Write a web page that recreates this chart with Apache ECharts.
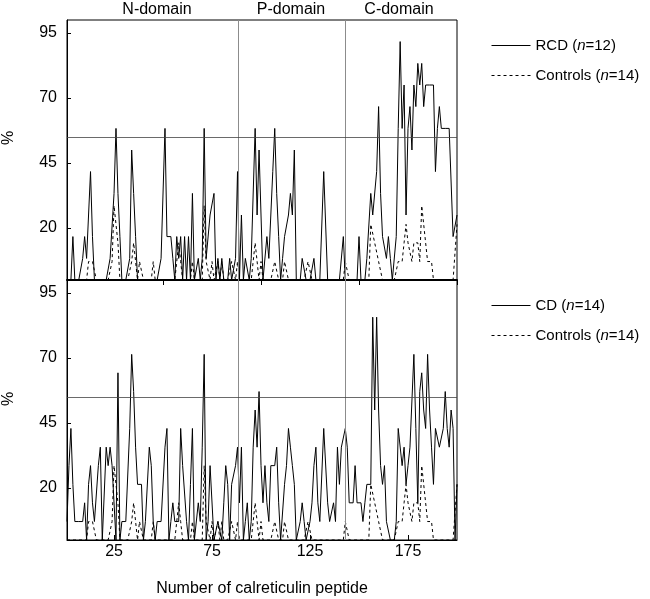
<!DOCTYPE html>
<html>
<head>
<meta charset="utf-8">
<script src="https://cdn.jsdelivr.net/npm/echarts@6/dist/echarts.min.js"></script>
<style>
  html, body { margin: 0; padding: 0; background: #fff; }
  #chart { width: 650px; height: 599px; }
</style>
</head>
<body>
<div id="chart"></div>
<script>
  // % of responders per peptide (peptides 1..200)
  const rcd = [
    0, 0, 0, 16.7, 0, 0, 0, 0, 8.3, 16.7, 8.3, 25, 41.7, 16.7, 0, 0, 0, 0, 0, 0,
    0, 0, 8.3, 8.3, 33.3, 58.3, 33.3, 16.7, 0, 0, 0, 0, 8.3, 50, 33.3, 16.7, 0, 0, 0, 0,
    0, 0, 0, 0, 0, 0, 0, 0, 8.3, 8.3, 58.3, 16.7, 16.7, 16.7, 8.3, 0, 16.7, 8.3, 16.7, 0,
    16.7, 0, 16.7, 0, 33.3, 0, 0, 8.3, 0, 8.3, 58.3, 8.3, 8.3, 25, 25, 33.3, 0, 8.3, 0, 8.3,
    0, 0, 0, 8.3, 0, 0, 8.3, 41.7, 0, 25, 0, 8.3, 8.3, 0, 8.3, 8.3, 58.3, 25, 50, 50,
    0, 0, 16.7, 8.3, 25, 41.7, 58.3, 33.3, 16.7, 0, 8.3, 16.7, 16.7, 25, 33.3, 25, 50, 0, 0, 0,
    8.3, 8.3, 0, 0, 0, 0, 8.3, 0, 0, 0, 0, 41.7, 41.7, 0, 0, 0, 0, 0, 0, 0,
    0, 16.7, 0, 0, 0, 0, 0, 0, 0, 16.7, 0, 0, 0, 8.3, 8.3, 33.3, 25, 25, 41.7, 66.7,
    33.3, 16.7, 16.7, 8.3, 16.7, 8.3, 0, 0, 16.7, 58.3, 91.7, 58.3, 75, 25, 58.3, 66.7, 50, 75, 66.7, 83.3,
    75, 83.3, 66.7, 75, 75, 75, 75, 75, 41.7, 58.3, 66.7, 58.3, 58.3, 58.3, 58.3, 58.3, 58.3, 16.7, 16.7, 25
  ]
  const cd = [
    7.1, 28.6, 42.9, 21.4, 7.1, 7.1, 7.1, 7.1, 7.1, 14.3, 0, 21.4, 28.6, 14.3, 7.1, 7.1, 28.6, 35.7, 0, 0,
    35.7, 28.6, 35.7, 28.6, 28.6, 0, 64.3, 0, 7.1, 7.1, 7.1, 7.1, 42.9, 71.4, 57.1, 35.7, 21.4, 21.4, 21.4, 0,
    7.1, 7.1, 35.7, 28.6, 7.1, 0, 7.1, 7.1, 7.1, 7.1, 35.7, 42.9, 0, 7.1, 14.3, 7.1, 7.1, 7.1, 42.9, 28.6,
    28.6, 7.1, 0, 21.4, 42.9, 0, 0, 14.3, 7.1, 35.7, 71.4, 0, 7.1, 28.6, 28.6, 0, 0, 7.1, 7.1, 0,
    14.3, 28.6, 21.4, 0, 21.4, 21.4, 28.6, 35.7, 14.3, 35.7, 0, 7.1, 14.3, 0, 7.1, 35.7, 50, 35.7, 57.1, 28.6,
    14.3, 28.6, 14.3, 7.1, 28.6, 28.6, 28.6, 35.7, 14.3, 0, 0, 21.4, 28.6, 42.9, 35.7, 28.6, 21.4, 0, 0, 7.1,
    14.3, 7.1, 0, 0, 7.1, 14.3, 28.6, 35.7, 14.3, 7.1, 7.1, 42.9, 42.9, 14.3, 7.1, 7.1, 14.3, 7.1, 35.7, 21.4,
    35.7, 35.7, 42.9, 35.7, 14.3, 14.3, 14.3, 28.6, 14.3, 14.3, 14.3, 7.1, 14.3, 21.4, 21.4, 21.4, 85.7, 50, 85.7, 50,
    28.6, 21.4, 28.6, 7.1, 7.1, 0, 0, 0, 7.1, 42.9, 42.9, 28.6, 35.7, 21.4, 28.6, 35.7, 35.7, 71.4, 42.9, 14.3,
    57.1, 64.3, 50, 42.9, 71.4, 50, 35.7, 21.4, 42.9, 42.9, 35.7, 35.7, 42.9, 57.1, 42.9, 35.7, 50, 42.9, 0, 21.4
  ]
  // same control group shown in both panels
  const controls = [
    0, 0, 0, 0, 0, 0, 0, 0, 0, 0, 0, 7.1, 7.1, 7.1, 7.1, 0, 0, 0, 0, 0,
    0, 0, 0, 7.1, 28.6, 21.4, 14.3, 0, 0, 0, 0, 0, 0, 7.1, 14.3, 7.1, 0, 7.1, 7.1, 0,
    0, 0, 0, 0, 7.1, 0, 0, 0, 0, 0, 0, 0, 0, 0, 0, 0, 7.1, 14.3, 7.1, 0,
    0, 0, 0, 0, 7.1, 0, 0, 0, 0, 0, 28.6, 7.1, 7.1, 0, 7.1, 0, 0, 7.1, 0, 7.1,
    0, 0, 0, 0, 7.1, 7.1, 0, 7.1, 0, 0, 0, 0, 0, 0, 0, 0, 14.3, 14.3, 0, 7.1,
    0, 0, 0, 0, 0, 0, 7.1, 7.1, 0, 0, 0, 7.1, 7.1, 0, 0, 0, 0, 0, 0, 0,
    0, 0, 0, 7.1, 7.1, 0, 0, 0, 0, 0, 0, 0, 0, 0, 0, 0, 0, 0, 0, 0,
    0, 0, 7.1, 7.1, 0, 0, 0, 0, 0, 0, 0, 0, 0, 0, 0, 21.4, 21.4, 14.3, 14.3, 7.1,
    7.1, 0, 0, 0, 0, 0, 0, 0, 0, 7.1, 7.1, 7.1, 14.3, 21.4, 14.3, 14.3, 7.1, 14.3, 14.3, 14.3,
    7.1, 28.6, 21.4, 14.3, 7.1, 7.1, 7.1, 0, 0, 0, 0, 0, 0, 0, 0, 0, 0, 0, 0, 21.4
  ]
  const yTicks = [20, 45, 70, 95]
  const xTicksTop = [50, 100, 150, 200]
  const xTicksBottom = [25, 75, 125, 175]
  const domainBounds = [88.5, 143]
  const threshold = 55
  const legendNames = {
    RCD: '{t|RCD (}{i|n}{t|=12)}',
    Controls: '{t|Controls (}{i|n}{t|=14)}',
    CD: '{t|CD (}{i|n}{t|=14)}',
    Controls2: '{t|Controls (}{i|n}{t|=14)}'
  }

  const font = 'Liberation Sans, Arial, Helvetica, sans-serif'
  const fontSize = 16
  const pairs = arr => arr.map((v, i) => [i + 1, v])

  const chart = echarts.init(document.getElementById('chart'))

  const refLines = {
    silent: true,
    symbol: 'none',
    label: { show: false },
    data: [
      ...domainBounds.map(x => ({ xAxis: x, lineStyle: { color: '#8c8c8c', width: 1, type: 'solid' } })),
      { yAxis: threshold, lineStyle: { color: '#444', width: 0.8, type: 'solid' } }
    ]
  }

  function yAxis(grid) {
    return {
      type: 'value', gridIndex: grid, min: 0, max: 100,
      axisLine: { show: true, lineStyle: { color: '#000', width: 1 } },
      axisTick: { show: true, inside: true, length: 4, customValues: yTicks, lineStyle: { color: '#000' } },
      axisLabel: { customValues: yTicks, margin: 10, color: '#000', fontSize, fontFamily: font },
      splitLine: { show: false }
    }
  }

  const lineSeries = (name, data, grid, dashed) => ({
    name, type: 'line', xAxisIndex: grid, yAxisIndex: grid,
    data: pairs(data), symbol: 'none', showSymbol: false, animation: false,
    lineStyle: { color: '#000', width: 1, type: dashed ? [3, 3] : 'solid' },
    itemStyle: { color: '#000' },
    z: dashed ? 2 : 3
  })

  const legend = (top, names) => ({
    orient: 'vertical', left: 486, top, itemWidth: 39, itemHeight: 14, itemGap: 15,
    data: names, selectedMode: false,
    itemStyle: { opacity: 0 },
    lineStyle: { width: 1 },
    formatter: n => legendNames[n],
    textStyle: {
      rich: {
        t: { fontSize: 15, fontFamily: font, color: '#000' },
        i: { fontSize: 15, fontFamily: font, color: '#000', fontStyle: 'italic' }
      }
    }
  })

  chart.setOption({
    backgroundColor: '#fff',
    animation: false,
    grid: [
      { left: 67, top: 20, width: 390, height: 260, show: true, borderColor: '#000', borderWidth: 1 },
      { left: 67, top: 280, width: 390, height: 260, show: true, borderColor: '#000', borderWidth: 1 }
    ],
    xAxis: [
      {
        type: 'value', gridIndex: 0, min: 1, max: 200,
        axisLine: { show: true, onZero: false, lineStyle: { color: '#000', width: 2 } },
        axisTick: { show: true, inside: false, length: 5, customValues: xTicksTop, lineStyle: { color: '#000' } },
        axisLabel: { show: false },
        splitLine: { show: false }
      },
      {
        type: 'value', gridIndex: 1, min: 1, max: 200,
        axisLine: { show: true, onZero: false, lineStyle: { color: '#000', width: 1 } },
        axisTick: { show: true, inside: true, length: 5, customValues: xTicksBottom, lineStyle: { color: '#000' } },
        axisLabel: { customValues: xTicksBottom, margin: 4, color: '#000', fontSize, fontFamily: font },
        splitLine: { show: false },
        name: 'Number of calreticulin peptide',
        nameLocation: 'middle', nameGap: 41,
        nameTextStyle: { color: '#000', fontSize, fontFamily: font }
      }
    ],
    yAxis: [yAxis(0), yAxis(1)],
    legend: [
      legend(33, ['RCD', 'Controls']),
      legend(293, ['CD', 'Controls2'])
    ],
    graphic: [
      ...[['N-domain', 157], ['P-domain', 291], ['C-domain', 399]].map(([t, x]) => ({
        type: 'text', x, y: 10,
        style: { text: t, fill: '#000', font: fontSize + 'px ' + font, textAlign: 'center', textVerticalAlign: 'middle' }
      })),
      ...[138, 399].map(y => ({
        type: 'text', x: 9, y, rotation: Math.PI / 2,
        style: { text: '%', fill: '#000', font: fontSize + 'px ' + font, textAlign: 'center', textVerticalAlign: 'middle' }
      }))
    ],
    series: [
      { ...lineSeries('RCD', rcd, 0, false), markLine: refLines },
      lineSeries('Controls', controls, 0, true),
      { ...lineSeries('CD', cd, 1, false), markLine: refLines },
      lineSeries('Controls2', controls, 1, true)
    ]
  })
</script>
</body>
</html>
